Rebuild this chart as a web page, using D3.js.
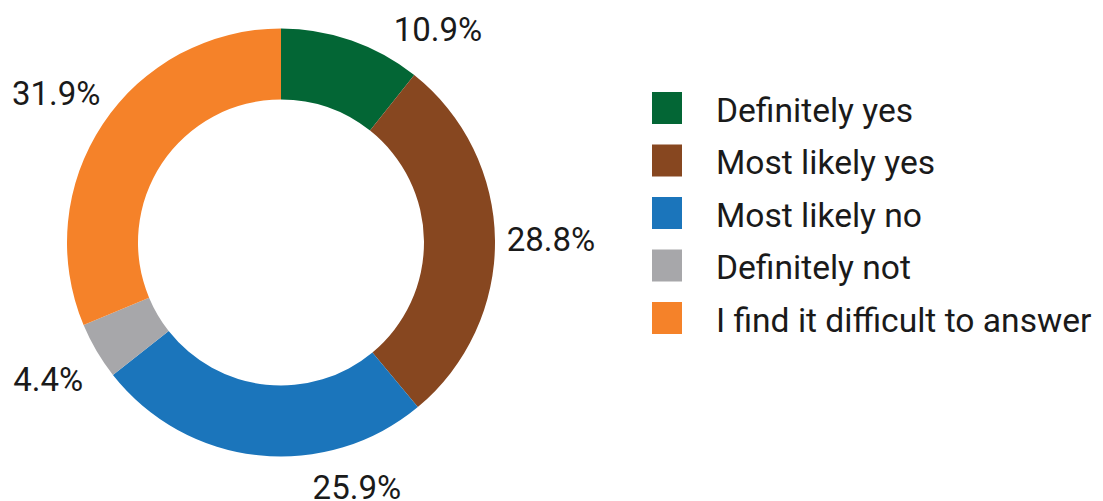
<!DOCTYPE html>
<html>
<head>
<meta charset="utf-8">
<script src="https://cdn.jsdelivr.net/npm/d3@7/dist/d3.min.js"></script>
<style>
  html, body { margin: 0; padding: 0; background: #fff; }
  svg { display: block; }
  text { font-family: Roboto, "Noto Sans", sans-serif; fill: #1a1a1a; }
</style>
</head>
<body>
<svg id="chart" width="1103" height="501"></svg>
<script>
// Survey answers, clockwise from 12 o'clock
const categories = ["Definitely yes", "Most likely yes", "Most likely no", "Definitely not", "I find it difficult to answer"];
const values = [10.9, 28.8, 25.9, 4.4, 31.9];
const colors = ["#036635", "#874720", "#1b75bb", "#a7a7aa", "#f58229"];

const W = 1103, H = 501;
const cx = 281, cy = 242.5;
const outerR = 214, innerR = 143;
const labelR = 270;

const svg = d3.select("#chart");

const data = categories.map((c, i) => ({ name: c, value: values[i], color: colors[i] }));

const pie = d3.pie().value(d => d.value).sort(null);
const arc = d3.arc().innerRadius(innerR).outerRadius(outerR);
const arcs = pie(data);

const g = svg.append("g").attr("transform", `translate(${cx},${cy})`);

g.selectAll("path.slice")
  .data(arcs)
  .join("path")
  .attr("class", "slice")
  .attr("d", arc)
  .attr("fill", d => d.data.color);

// Percentage labels around the ring; labels that would leave the canvas
// slide along a slightly tighter circle until they fit.
const minY = 29 - cy, maxY = 487 - cy;
g.selectAll("text.pct")
  .data(arcs)
  .join("text")
  .attr("class", "pct")
  .attr("text-anchor", "middle")
  .attr("dy", "0.36em")
  .style("font-size", "33px")
  .each(function (d) {
    const a = (d.startAngle + d.endAngle) / 2;
    let x = Math.sin(a) * labelR;
    let y = -Math.cos(a) * labelR;
    if (y < minY || y > maxY) {
      y = Math.max(minY, Math.min(maxY, y));
      const r = y < 0 ? labelR - 5 : labelR - 14;
      x = Math.sqrt(Math.max(0, r * r - y * y));
    }
    d3.select(this).attr("x", x).attr("y", y);
  })
  .text(d => d.data.value.toFixed(1) + "%");

// Legend
const legend = svg.append("g").attr("transform", "translate(652,92)");
const rowH = 52.5;
const rows = legend.selectAll("g.item")
  .data(data)
  .join("g")
  .attr("class", "item")
  .attr("transform", (d, i) => `translate(0,${i * rowH})`);

rows.append("rect")
  .attr("width", 30)
  .attr("height", 32)
  .attr("fill", d => d.color);

rows.append("text")
  .attr("x", 64)
  .attr("y", 17.5)
  .attr("dy", "0.36em")
  .style("font-size", "33.6px")
  .text(d => d.name);
</script>
</body>
</html>
